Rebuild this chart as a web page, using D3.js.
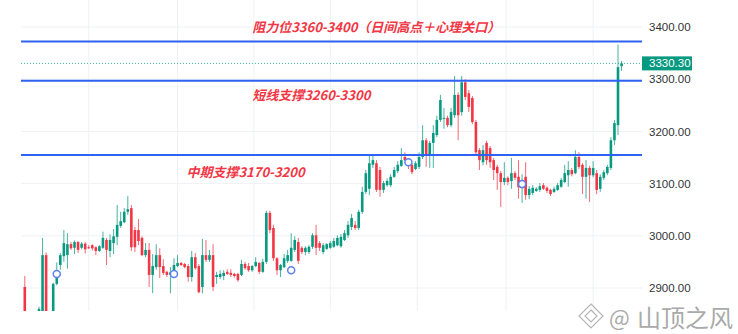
<!DOCTYPE html>
<html>
<head>
<meta charset="utf-8">
<script src="https://cdn.jsdelivr.net/npm/d3@7"></script>
<style>
  html, body { margin: 0; padding: 0; background: #fff; }
  svg { display: block; }
</style>
</head>
<body>
<script>
// candles: [open, high, low, close]
const candles = [
[2902,2923,2830,2840],[2840,2848,2815,2825],[2825,2838,2805,2832],[2832,2852,2820,2846],
[2850,2864,2845,2860],[2845,2996,2838,2963],[2963,2968,2830,2840],[2840,2852,2815,2848],
[2848,2910,2840,2908],[2908,2949,2905,2934],[2944,2967,2935,2963],[2961,3011,2950,2986],
[2963,3005,2937,2984],[2984,2988,2973,2976],[2977,2991,2965,2988],[2988,2990,2967,2973],
[2977,2988,2974,2985],[2985,2988,2966,2974],[2978,2982,2975,2977],[2982,2984,2972,2976],
[2978,2980,2963,2971],[2971,2982,2969,2980],[2977,3008,2975,2996],[2992,2996,2944,2973],
[2971,3003,2959,2992],[2986,3013,2965,2999],[2998,3059,2982,3021],[3019,3046,3015,3028],
[3026,3053,3024,3046],[3046,3076,3040,3051],[3053,3059,2971,2978],[3011,3017,2969,2978],
[3011,3032,2982,2990],[2996,2999,2961,2963],[2963,2986,2959,2973],[2973,2986,2902,2925],
[2925,2965,2890,2942],[2940,2984,2935,2963],[2963,2976,2919,2940],[2942,2955,2925,2929],
[2931,2933,2921,2925],[2925,2940,2890,2930],[2931,2957,2929,2944],[2942,2963,2940,2948],
[2948,2950,2942,2944],[2946,2948,2938,2940],[2942,2946,2912,2921],[2921,2971,2912,2959],
[2959,2967,2935,2938],[2942,2946,2890,2892],[2902,2994,2890,2963],[2963,2992,2950,2954],
[2954,2973,2950,2963],[2963,2984,2894,2902],[2921,2931,2908,2925],[2921,2934,2917,2927],
[2923,2934,2915,2929],[2931,2936,2925,2927],[2929,2936,2921,2925],[2927,2929,2920,2923],
[2927,2929,2912,2915],[2925,2954,2923,2946],[2946,2950,2935,2938],[2942,2948,2931,2934],
[2934,2944,2931,2942],[2942,2959,2940,2950],[2948,2950,2927,2931],[2931,2956,2929,2950],
[2950,3048,2946,3044],[3044,3048,3005,3011],[3015,3021,2952,2957],[2957,2959,2925,2934],
[2934,2946,2921,2944],[2940,2965,2938,2957],[2952,2973,2948,2963],[2952,3005,2950,2977],
[2973,2999,2969,2992],[2988,2996,2946,2952],[2977,2980,2965,2969],[2969,2980,2963,2977],
[2969,2982,2965,2979],[2979,3005,2975,3001],[3001,3021,2963,2977],[2986,2990,2971,2977],
[2969,2986,2965,2982],[2975,2986,2973,2984],[2977,2990,2975,2986],[2979,2996,2977,2990],
[2982,3001,2980,2996],[2980,3003,2977,2998],[2992,3011,2990,3005],[3001,3028,2996,3021],
[3017,3042,3011,3034],[3021,3028,3011,3015],[3015,3050,3011,3046],[3046,3094,3042,3084],
[3084,3126,3080,3120],[3090,3155,3078,3139],[3136,3153,3130,3145],[3139,3145,3084,3088],
[3126,3132,3075,3088],[3088,3105,3082,3101],[3097,3110,3094,3105],[3097,3118,3093,3113],
[3113,3132,3111,3126],[3124,3143,3120,3136],[3134,3168,3132,3145],[3151,3160,3143,3145],
[3139,3143,3128,3134],[3136,3139,3118,3122],[3128,3143,3126,3139],[3132,3160,3128,3151],
[3151,3212,3147,3183],[3183,3187,3132,3155],[3155,3182,3130,3178],[3178,3212,3130,3197],
[3193,3230,3189,3222],[3222,3270,3218,3260],[3224,3245,3205,3226],[3226,3230,3208,3212],
[3212,3245,3208,3237],[3231,3306,3226,3270],[3270,3275,3183,3231],[3237,3306,3230,3294],
[3294,3300,3260,3266],[3273,3279,3237,3247],[3264,3268,3214,3218],[3218,3222,3155,3160],
[3164,3168,3126,3145],[3141,3174,3135,3164],[3178,3182,3136,3145],[3168,3172,3130,3141],
[3145,3149,3107,3126],[3132,3136,3088,3120],[3120,3124,3055,3103],[3103,3141,3097,3111],
[3111,3114,3097,3103],[3105,3149,3090,3120],[3120,3124,3107,3111],[3113,3145,3071,3093],
[3093,3118,3063,3107],[3113,3141,3069,3078],[3078,3095,3070,3090],[3082,3097,3078,3092],
[3086,3093,3084,3090],[3088,3101,3084,3095],[3097,3101,3088,3090],[3092,3095,3082,3086],
[3088,3090,3076,3080],[3084,3094,3082,3090],[3088,3101,3086,3097],[3094,3111,3092,3107],
[3103,3136,3101,3120],[3116,3143,3094,3126],[3126,3130,3114,3118],[3120,3164,3118,3151],
[3151,3160,3128,3132],[3136,3139,3080,3113],[3113,3145,3071,3130],[3130,3134,3065,3116],
[3116,3143,3112,3130],[3120,3126,3080,3088],[3090,3118,3084,3113],[3111,3126,3107,3122],
[3120,3136,3116,3132],[3130,3189,3126,3183],[3183,3222,3174,3216],[3212,3366,3193,3323],
[3325,3335,3316,3330.3]
];

// horizontal levels drawn on the chart
const levels = [3372, 3297, 3155];
const levelLabels = ["阻力位3360-3400（日间高点＋心理关口）", "短线支撑3260-3300", "中期支撑3170-3200"];
const labelAnchors = [[64, 3390], [64, 3260], [45.5, 3113]]; // [candle index, price]

const yTicks = [2900, 3000, 3100, 3200, 3300, 3400];
const timeGrid = [18, 43, 64.5, 86, 110.5, 135.5, 160]; // candle index of time separators
const markers = [[9, 2927], [42, 2927], [75, 2934], [108, 3141], [140, 3099]];
const lastPrice = 3330.30;

(function() {

    var width = 738;
    var height = 334;
    var left = 21, right = 642, bottom = 311;

    var green = "#089981", red = "#f23645";

    var svg = d3.select("body")
      .append("svg")
      .attr("width", width)
      .attr("height", height);

    var n = candles.length;

    var x = d3.scaleLinear().domain([4, n - 2]).range([39, 618]);
    var y = d3.scaleLinear().domain([2900, 3400]).range([288, 27]);

    //clip region for the plot
    svg.append("clipPath").attr("id", "plot")
      .append("rect")
      .attr("x", left).attr("y", 0)
      .attr("width", right - left).attr("height", bottom);

    //grid
    svg.append("g").selectAll("line")
      .data(yTicks)
      .join("line")
      .attr("x1", left).attr("x2", right)
      .attr("y1", d => y(d)).attr("y2", d => y(d))
      .attr("stroke", "#eff1f4").attr("stroke-width", 1);

    svg.append("g").selectAll("line")
      .data(timeGrid)
      .join("line")
      .attr("x1", d => x(d)).attr("x2", d => x(d))
      .attr("y1", 0).attr("y2", bottom)
      .attr("stroke", "#eff1f4").attr("stroke-width", 1);

    var plot = svg.append("g").attr("clip-path", "url(#plot)");

    //last price dotted line
    plot.append("line")
      .attr("x1", left).attr("x2", right)
      .attr("y1", y(lastPrice)).attr("y2", y(lastPrice))
      .attr("stroke", "#3fb59b").attr("stroke-width", 1)
      .attr("stroke-dasharray", "1,2");

    //candles
    var c = plot.append("g").selectAll("g")
      .data(candles)
      .join("g");

    c.append("line")
      .attr("x1", (d, i) => x(i)).attr("x2", (d, i) => x(i))
      .attr("y1", d => y(d[1])).attr("y2", d => y(d[2]))
      .attr("stroke", d => d[3] >= d[0] ? green : red)
      .attr("stroke-opacity", 0.75)
      .attr("stroke-width", 1);

    c.append("rect")
      .attr("x", (d, i) => x(i) - 1.3)
      .attr("width", 2.6)
      .attr("y", d => y(Math.max(d[0], d[3])))
      .attr("height", d => Math.max(1, Math.abs(y(d[0]) - y(d[3]))))
      .attr("fill", d => d[3] >= d[0] ? green : red);

    //support / resistance lines
    plot.append("g").selectAll("line")
      .data(levels)
      .join("line")
      .attr("x1", left).attr("x2", right)
      .attr("y1", d => y(d)).attr("y2", d => y(d))
      .attr("stroke", "#2f62f2").attr("stroke-width", 2);

    //markers
    plot.append("g").selectAll("circle")
      .data(markers)
      .join("circle")
      .attr("cx", d => x(d[0])).attr("cy", d => y(d[1]))
      .attr("r", 3.5)
      .attr("fill", "#fff")
      .attr("stroke", "#5b80f2").attr("stroke-width", 1.5);

    //labels
    svg.append("g").selectAll("text")
      .data(levelLabels)
      .join("text")
      .attr("x", (d, i) => x(labelAnchors[i][0]))
      .attr("y", (d, i) => y(labelAnchors[i][1]))
      .attr("fill", red)
      .attr("font-family", "'Noto Sans CJK SC', sans-serif")
      .attr("font-size", 13)
      .attr("font-weight", "bold")
      .attr("font-style", "italic")
      .text(d => d);

    //price axis
    var axis = svg.append("g")
      .attr("transform", "translate(646,0)")
      .call(d3.axisRight(y).tickValues(yTicks).tickFormat(d3.format(".2f")).tickSize(0).tickPadding(3));
    axis.select(".domain").remove();
    axis.selectAll("text")
      .attr("fill", "#333")
      .attr("font-size", 11.5)
      .attr("font-family", "'Liberation Sans', Arial, sans-serif");

    //last price tag
    svg.append("rect")
      .attr("x", right).attr("y", y(lastPrice) - 7)
      .attr("width", 50).attr("height", 14)
      .attr("fill", green);
    svg.append("text")
      .attr("x", 649).attr("y", y(lastPrice) + 4)
      .attr("fill", "#fff")
      .attr("font-size", 11.5)
      .attr("font-family", "'Liberation Sans', Arial, sans-serif")
      .text(d3.format(".2f")(lastPrice));

    //watermark
    var wm = svg.append("g").attr("fill", "none").attr("stroke", "#b5b5b5").attr("stroke-width", 1.2);
    wm.append("path").attr("d", "M591,304 L603,316 L591,328 L579,316 Z");
    wm.append("path").attr("d", "M591,310 L597,316 L591,322 L585,316 Z");
    svg.append("text")
      .attr("x", 609).attr("y", 326)
      .attr("fill", "#aaa")
      .attr("font-size", 22)
      .attr("font-family", "'Noto Sans CJK SC', sans-serif")
      .text("@");
    svg.append("text")
      .attr("x", 637).attr("y", 327)
      .attr("fill", "#aaa")
      .attr("font-size", 24)
      .attr("font-family", "'Noto Sans CJK SC', sans-serif")
      .text("山顶之风");

})();
</script>
</body>
</html>
